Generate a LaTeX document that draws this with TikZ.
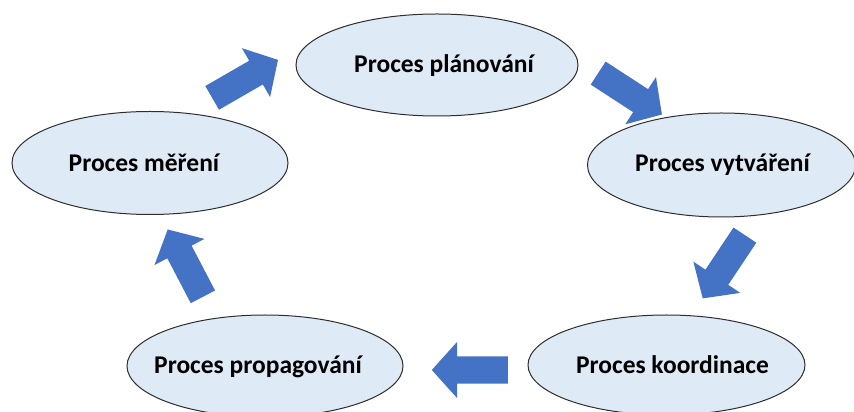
\documentclass[tikz,border=0pt]{standalone}
\usepackage{fontspec}
\setmainfont{Carlito}
\usetikzlibrary{shapes.geometric,shapes.arrows}
\definecolor{ellfill}{HTML}{DEEAF6}
\definecolor{arrblue}{HTML}{4472C4}
\definecolor{ellline}{HTML}{2E2E2E}
\tikzset{
  proc/.style={ellipse, draw=ellline, line width=1pt, fill=ellfill, inner sep=0pt},
  proctext/.style={inner sep=0pt, font=\fontsize{25.5}{30}\selectfont\bfseries, text=black},
  blockarrow/.style={single arrow, fill=arrblue, draw=none, inner sep=0pt,
    minimum width=56pt, minimum height=76pt, text width=0pt, text height=13.5pt, text depth=13.5pt,
    single arrow head extend=14.5pt, single arrow tip angle=96, anchor=tail}
}
\begin{document}
\begin{tikzpicture}[x=1pt,y=1pt]
\useasboundingbox (0,0) rectangle (854,412);
\clip (0,0) rectangle (854,412);
\node[proc, minimum width=282pt, minimum height=102pt] (plan) at (437,347) {};
\node[proctext] (plan-t) at ([xshift=7pt,yshift=-1pt]plan.center) {Proces plánování};
\node[proc, minimum width=268pt, minimum height=104pt] (vytv) at (721.5,247) {};
\node[proctext] (vytv-t) at ([xshift=1pt]vytv.center) {Proces vytváření};
\node[proc, minimum width=277pt, minimum height=100pt] (koord) at (666.5,47) {};
\node[proctext] (koord-t) at ([xshift=6pt]koord.center) {Proces koordinace};
\node[proc, minimum width=276pt, minimum height=102pt] (prop) at (265,46) {};
\node[proctext] (prop-t) at ([xshift=-7pt,yshift=-1pt]prop.center) {Proces propagování};
\node[proc, minimum width=276pt, minimum height=103pt] (mer) at (150,249) {};
\node[proctext] (mer-t) at ([xshift=-6pt]mer.center) {Proces měření};
\node[blockarrow, rotate=30] (a1) at (212,314) {};
\node[blockarrow, rotate=-33] (a2) at (598,339) {};
\node[blockarrow, rotate=236.3] (a3) at (745,177) {};
\node[blockarrow, rotate=180] (a4) at (508,42) {};
\node[blockarrow, rotate=117.6] (a5) at (203,115) {};
\end{tikzpicture}
\end{document}
